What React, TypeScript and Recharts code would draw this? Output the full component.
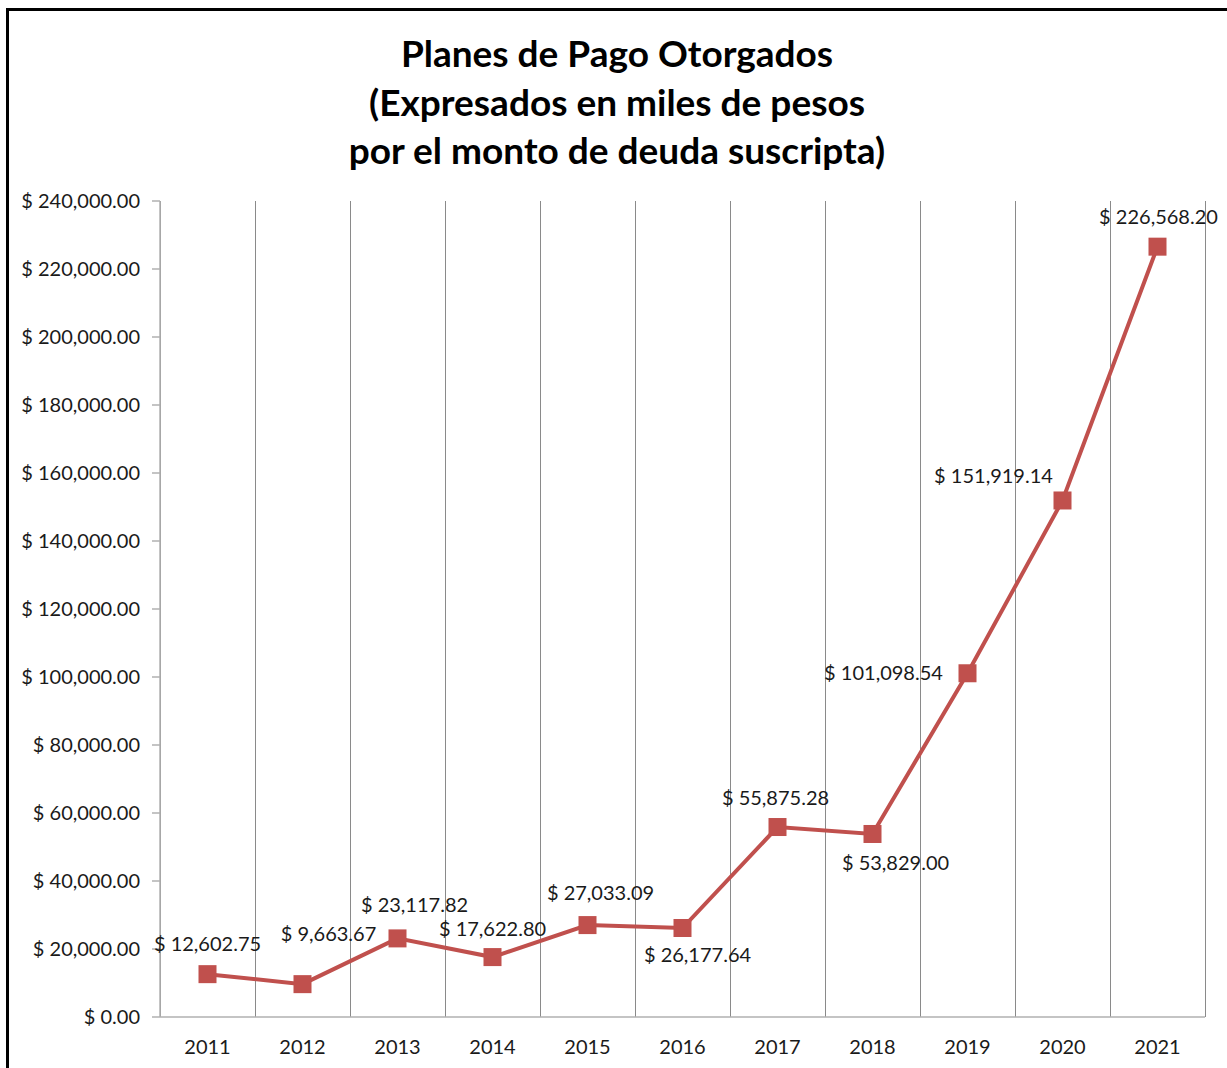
import { LineChart, Line, XAxis, YAxis, CartesianGrid, LabelList } from "recharts";

const YEARS = ["2011", "2012", "2013", "2014", "2015", "2016", "2017", "2018", "2019", "2020", "2021"];
const MONTOS = [12602.75, 9663.67, 23117.82, 17622.8, 27033.09, 26177.64, 55875.28, 53829.0, 101098.54, 151919.14, 226568.2];
const Y_TICKS = [0, 20000, 40000, 60000, 80000, 100000, 120000, 140000, 160000, 180000, 200000, 220000, 240000];
const TITLE = ["Planes de Pago Otorgados", "(Expresados en miles de pesos", "por el monto de deuda suscripta)"];

// where Excel left each data label relative to its marker (dx, dy of label centre)
const LABEL_OFFSETS: [number, number][] = [
  [0, -31], [26, -51], [17, -34], [0, -29], [13, -33], [15, 26],
  [-2, -30], [23, 28], [-84, -1], [-69, -25], [1, -31],
];

const RED = "#c0504d";
const GRID = "#8a8a8a";
const AXIS = "#b0b0b0";
const FONT = "Lato, 'Open Sans', sans-serif";

const data = YEARS.map((y, i) => ({ x: i, year: y, monto: MONTOS[i] }));
const boundaryTicks = YEARS.map((_, i) => i - 0.5).concat(YEARS.length - 0.5);
const centerTicks = YEARS.map((_, i) => i);

const money = (v: number) =>
  "$ " + v.toLocaleString("en-US", { minimumFractionDigits: 2, maximumFractionDigits: 2 });

function SquareDot(props: any) {
  const { cx, cy } = props;
  if (cx == null || cy == null) return null;
  return <rect x={cx - 9} y={cy - 9} width={18} height={18} fill={RED} />;
}

function PointLabel(props: any) {
  const { x, y, index, value } = props;
  const [dx, dy] = LABEL_OFFSETS[index] ?? [0, -30];
  return (
    <text
      x={x + dx}
      y={y + dy}
      textAnchor="middle"
      dominantBaseline="central"
      fontSize={20}
      fontFamily={FONT}
      fill="#1a1a1a"
    >
      {money(value)}
    </text>
  );
}

// Excel draws the vertical grid between categories, not through them
// (+0.5 keeps the 1px line on a single pixel column)
const categoryBoundaries = ({ offset }: any) =>
  boundaryTicks.map((_, i) => Math.round(offset.left + (offset.width * i) / YEARS.length) + 0.5);

export default function App() {
  return (
    <div style={{ position: "absolute", left: 0, top: 0, width: 1227, height: 1068, overflow: "hidden", background: "#fff" }}>
      <div
        style={{
          position: "absolute",
          left: 6,
          top: 8,
          width: 1260,
          height: 1100,
          border: "3px solid #000",
          boxSizing: "border-box",
        }}
      />
      <div
        style={{
          position: "absolute",
          left: 0,
          top: 29,
          width: 1234,
          textAlign: "center",
          fontFamily: FONT,
          fontWeight: 700,
          fontSize: 37,
          lineHeight: "48.5px",
          color: "#000",
        }}
      >
        {TITLE.map((t) => (
          <div key={t}>{t}</div>
        ))}
      </div>
      <div style={{ position: "absolute", left: 0, top: 0 }}>
        <LineChart width={1227} height={1068} data={data} margin={{ top: 201, right: 22, bottom: 0, left: 0 }}>
          <CartesianGrid
            horizontal={false}
            verticalCoordinatesGenerator={categoryBoundaries}
            stroke={GRID}
            strokeWidth={1}
          />
          <XAxis
            xAxisId="grid"
            dataKey="x"
            type="number"
            domain={[-0.5, YEARS.length - 0.5]}
            ticks={boundaryTicks}
            tick={false}
            tickSize={7}
            stroke={AXIS}
            strokeWidth={1.5}
            height={8}
          />
          <XAxis
            xAxisId="years"
            dataKey="x"
            type="number"
            domain={[-0.5, YEARS.length - 0.5]}
            ticks={centerTicks}
            interval={0}
            tickFormatter={(v: number) => YEARS[v]}
            axisLine={false}
            tickLine={false}
            tickSize={0}
            tickMargin={15}
            height={43}
            tick={{ fontSize: 20, fontFamily: FONT, fill: "#1a1a1a" }}
          />
          <YAxis
            domain={[0, 240000]}
            ticks={Y_TICKS}
            interval={0}
            width={160}
            tickFormatter={money}
            tickSize={8}
            tickMargin={12}
            stroke={AXIS}
            strokeWidth={1.5}
            tick={{ fontSize: 20, fontFamily: FONT, fill: "#1a1a1a" }}
          />
          <Line
            xAxisId="years"
            dataKey="monto"
            stroke={RED}
            strokeWidth={4}
            dot={<SquareDot />}
            activeDot={false}
            isAnimationActive={false}
          >
            <LabelList dataKey="monto" content={<PointLabel />} />
          </Line>
        </LineChart>
      </div>
    </div>
  );
}
